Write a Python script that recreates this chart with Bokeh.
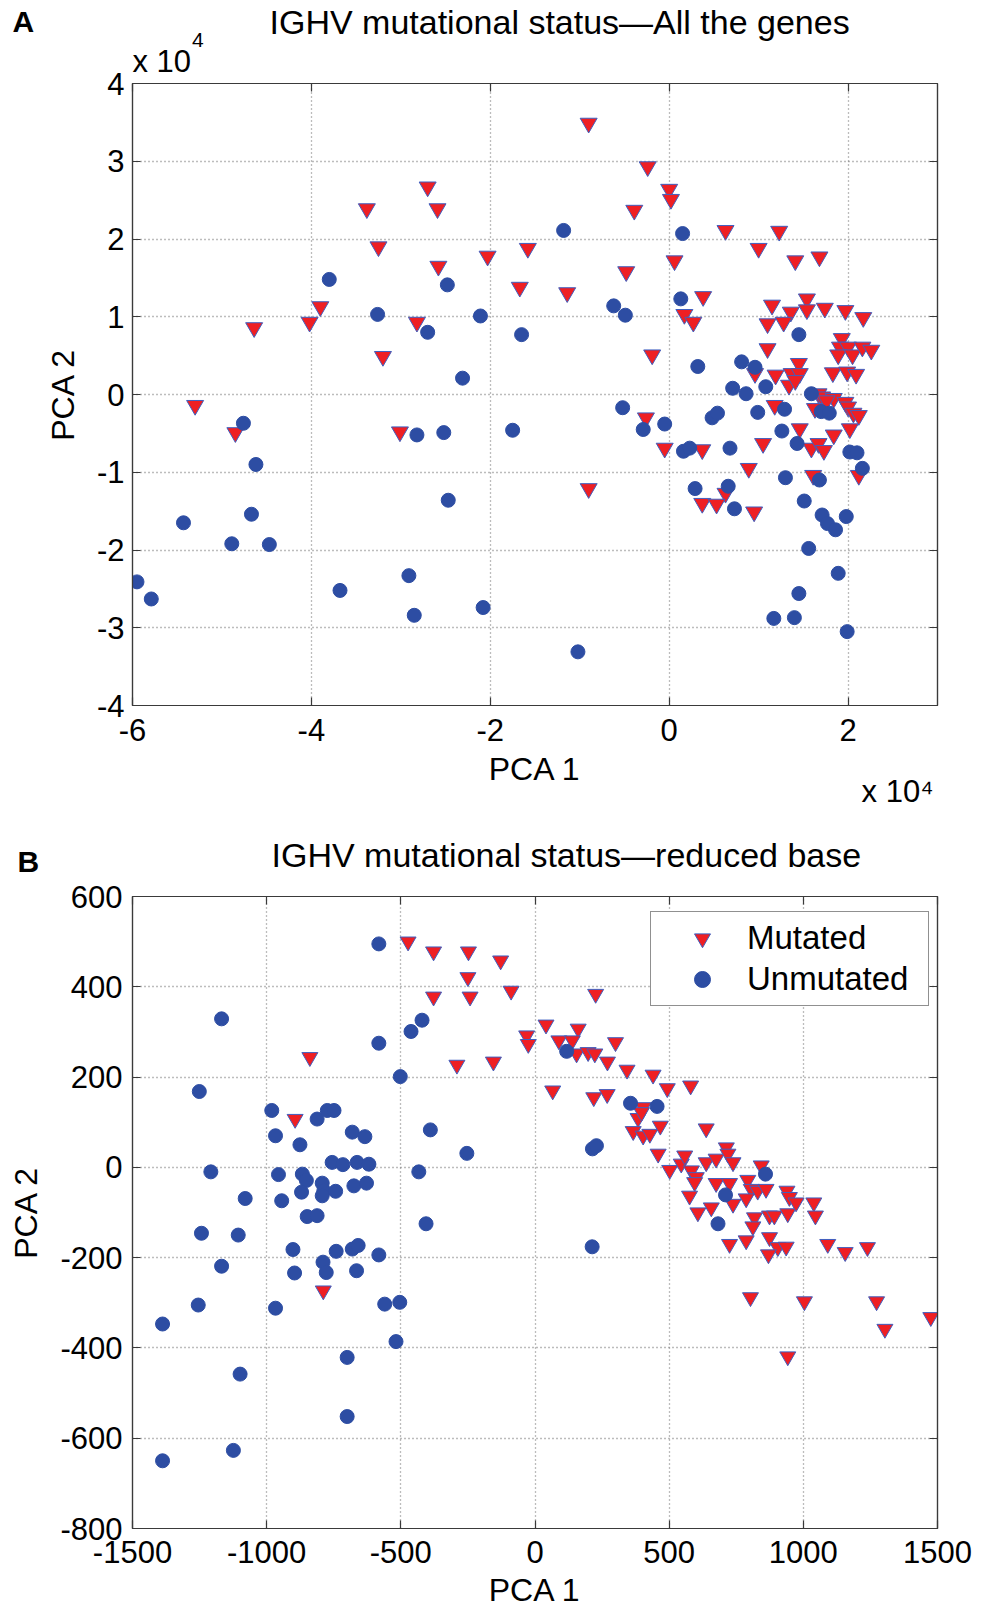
from bokeh.plotting import figure
from bokeh.models import LinearAxis, FixedTicker, Legend, LegendItem, Range1d, Title
from bokeh.layouts import column
from bokeh.embed import file_html
from bokeh.resources import INLINE

# ---------------- Panel A data (PCA units of 1e4) ----------------
a_mut_x = [-5.30, -4.64, -4.02, -3.90, -3.38, -3.25, -3.20, -2.70, -2.59, -2.58, -2.82, -2.03,
           -4.85, -3.01, -0.90, -0.24, 0.00, 0.02, -0.39, 0.63, 1.23, -1.58, 1.00, 0.06, 1.41,
           1.68, -0.48, -1.67, -1.14, 0.38, 0.17, 0.27, 1.15, 1.54, 1.54, 1.36, 1.74, 1.97, 2.17,
           1.10, 1.28, -0.19, 1.10, 1.93, 1.91, 2.00, 1.89, 2.05, 2.16, 2.26, 0.96, 1.19, 1.34,
           1.37, 1.45, 1.46, 1.41, 1.83, 1.99, 2.09, 1.67, 1.71, 1.84, 1.97, -0.26, -0.05, 0.37,
           1.18, 1.46, 1.05, 1.59, 1.67, 1.73, 1.84, 2.02, 1.63, 1.76, 2.00, 2.06, 2.12, 2.12,
           0.89, 1.61, -0.90, 0.63, 0.37, 0.53, 0.95]
a_mut_y = [-0.14, 0.86, 0.93, 1.13, 2.39, 1.90, 0.49, 2.67, 2.39, 1.65, 0.93, 1.78,
           -0.49, -0.48, 3.49, 2.93, 2.64, 2.51, 2.37, 2.11, 2.10, 1.88, 1.88, 1.72, 1.72,
           1.77, 1.58, 1.38, 1.31, 1.26, 1.03, 0.93, 1.15, 1.23, 1.09, 1.06, 1.11, 1.08, 0.99,
           0.91, 0.93, 0.51, 0.59, 0.72, 0.61, 0.61, 0.51, 0.51, 0.61, 0.57, 0.27, 0.25, 0.12,
           0.27, 0.40, 0.27, 0.18, 0.28, 0.29, 0.26, 0.01, -0.03, -0.05, -0.10, -0.30, -0.69, -0.71,
           -0.14, -0.44, -0.63, -0.69, -0.63, -0.72, -0.52, -0.44, -0.18, -0.08, -0.16, -0.24, -0.27, -1.04,
           -0.95, -1.04, -1.21, -1.27, -1.40, -1.41, -1.51]
a_unm_x = [-3.80, -3.26, -2.48, -2.70, -2.31, -2.11, -1.18, 0.15, -0.62, -0.49, 0.13, -1.65,
           1.45, 0.32, 0.81, 0.96, 0.71, 0.86, 1.08, 1.59, -1.75, -0.52, -0.29, -0.05, 0.16,
           0.23, 0.68, 0.48, 0.54, 0.99, 1.29, 1.26, 1.43, 1.70, 1.79, 2.02, 2.10, 2.16, 1.30,
           1.68, 0.29, 0.66, 0.73, 1.51, 1.71, 1.77, 1.86, 1.98, 1.56, 1.89, 1.45, 1.17, 1.40,
           1.99, -1.02, -4.76, -4.62, -5.43, -4.67, -4.89, -4.47, -5.95, -5.79, -2.82, -2.52,
           -2.47, -3.68, -2.91, -2.85, -2.08]
a_unm_y = [1.48, 1.03, 1.41, 0.80, 0.21, 1.01, 2.11, 2.07, 1.14, 1.02, 1.23, 0.77,
           0.77, 0.36, 0.42, 0.35, 0.08, 0.01, 0.10, 0.01, -0.46, -0.17, -0.45, -0.38, -0.73,
           -0.69, -0.69, -0.30, -0.24, -0.23, -0.19, -0.47, -0.63, -0.22, -0.24, -0.74, -0.75, -0.95, -1.07,
           -1.10, -1.21, -1.18, -1.47, -1.37, -1.55, -1.66, -1.74, -1.57, -1.98, -2.30, -2.56, -2.88, -2.87,
           -3.05, -3.31, -0.37, -0.90, -1.65, -1.54, -1.92, -1.93, -2.41, -2.63, -0.52, -0.49,
           -1.36, -2.52, -2.33, -2.84, -2.74]

# ---------------- Panel B data ----------------
b_mut_x = [-473, -378, -248, -250, -378, -242, -128, -89, 226, -839, -291, -155, -894, -789,
           41, -31, -25, 161, 89, 139, 155, 198, 223, 300, 270, 343, 440, 493, 580, 66, 219, 269,
           403, 384, 397, 366, 403, 428, 467, 638, 459, 502, 545, 558, 583, 601, 595, 638, 675,
           713, 719, 738, 843, 675, 725, 793, 806, 830, 861, 576, 607, 657, 738, 787, 818, 874,
           892, 942, 939, 948, 973, 1039, 1045, 725, 787, 812, 874, 905, 936, 870, 1091, 1156,
           1239, 803, 1004, 1273, 1475, 1304, 942]
b_mut_y = [500, 478, 478, 421, 378, 378, 458, 391, 384, 244, 227, 234, 107, -273,
           316, 292, 273, 307, 281, 281, 252, 255, 252, 277, 234, 216, 205, 175, 181, 170, 155, 162,
           133, 109, 122, 80, 70, 74, 92, 86, 30, -6, 8, 26, -7, -22, -33, 11, 19,
           44, 30, 11, 4, -35, -35, -28, -48, -52, -48, -63, -100, -89, -81, -69, -111, -107,
           -107, -102, -52, -66, -78, -78, -107, -170, -162, -131, -155, -177, -176, -193, -170, -188,
           -177, -288, -297, -297, -332, -358, -419]
b_unm_x = [-582, -1168, -421, -462, -582, -502, -1251, -981, -812, -774, -749, -967, -876,
           -681, -634, -390, -254, -1208, -433, -756, -716, -663, -619, -956, -867, -852, -793,
           -787, -743, -793, -870, -675, -628, -1080, -944, -849, -812, -406, -1243, -1106, -902,
           -741, -681, -659, -582, -1168, -790, -778, -896, -665, -1255, -967, -560, -504, -1388,
           -518, -700, -1099, -700, -1124, -1388, 118, 356, 455, 214, 229, 859, 710, 682, 213]
b_unm_y = [495, 329, 326, 301, 275, 201, 168, 126, 107, 126, 126, 70, 50,
           78, 68, 83, 31, -10, -10, 11, 6, 11, 7, -16, -15, -29, -35,
           -52, -53, -63, -55, -41, -35, -69, -74, -109, -107, -125, -146, -150, -182,
           -186, -181, -173, -194, -219, -210, -233, -234, -229, -305, -312, -303, -299, -347,
           -386, -421, -458, -552, -627, -650, 257, 142, 135, 41, 48, -15, -61, -125, -176]

a_xticks = [-6, -4, -2, 0, 2]
a_yticks = [-4, -3, -2, -1, 0, 1, 2, 3, 4]
b_xticks = [-1500, -1000, -500, 0, 500, 1000, 1500]
b_yticks = [-800, -600, -400, -200, 0, 200, 400, 600]

FONT = "Liberation Sans"
RED = "#ee1f23"
BLUE = "#2d4da3"
EDGE = "#3f5fc0"
AXC = "#3a3a3a"


def hyph(ticks):
    return {t: str(t) for t in ticks}


def style(p, xt, yt, ylab_stand, xlab_stand):
    p.background_fill_color = "white"
    p.border_fill_color = "white"
    p.outline_line_color = AXC
    p.outline_line_width = 1.2
    for ax in (p.xaxis[0], p.yaxis[0]):
        ax.axis_line_color = AXC
        ax.axis_line_width = 1.2
        ax.major_tick_in = 8
        ax.major_tick_out = 0
        ax.major_tick_line_color = AXC
        ax.major_tick_line_width = 1.2
        ax.minor_tick_line_color = None
        ax.major_label_text_font = FONT
        ax.major_label_text_font_size = "31px"
        ax.major_label_text_color = "black"
        ax.axis_label_text_font = FONT
        ax.axis_label_text_font_size = "32px"
        ax.axis_label_text_font_style = "normal"
        ax.axis_label_text_color = "black"
    p.xaxis[0].ticker = FixedTicker(ticks=xt)
    p.yaxis[0].ticker = FixedTicker(ticks=yt)
    p.xaxis[0].major_label_overrides = hyph(xt)
    p.yaxis[0].major_label_overrides = hyph(yt)
    p.yaxis[0].major_label_standoff = ylab_stand[0]
    p.yaxis[0].axis_label_standoff = ylab_stand[1]
    p.xaxis[0].major_label_standoff = xlab_stand[0]
    p.xaxis[0].axis_label_standoff = xlab_stand[1]
    p.xgrid.ticker = FixedTicker(ticks=xt)
    p.ygrid.ticker = FixedTicker(ticks=yt)
    for g in (p.xgrid, p.ygrid):
        g.grid_line_color = "#7a7a7a"
        g.grid_line_dash = "1 3"
        g.grid_line_width = 1.3
    top = LinearAxis(ticker=FixedTicker(ticks=xt), major_label_overrides={t: "" for t in xt})
    right = LinearAxis(ticker=FixedTicker(ticks=yt), major_label_overrides={t: "" for t in yt})
    for ax in (top, right):
        ax.axis_line_color = AXC
        ax.axis_line_width = 1.2
        ax.major_tick_in = 8
        ax.major_tick_out = 0
        ax.major_tick_line_color = AXC
        ax.major_tick_line_width = 1.2
        ax.minor_tick_line_color = None
        ax.major_label_text_font_size = "1px"
        ax.major_label_standoff = 0
    p.add_layout(top, "above")
    p.add_layout(right, "right")


def ttl(p, side, text, size, offset, standoff, align="left", bold=False):
    p.add_layout(Title(text=text, align=align, offset=offset, standoff=standoff,
                       vertical_align="middle", text_font=FONT, text_font_size=size,
                       text_font_style="bold" if bold else "normal", text_color="black"), side)


# ---------------- Panel A ----------------
pA = figure(width=975, height=836, output_backend="svg", toolbar_location=None,
            x_range=Range1d(-6, 3), y_range=Range1d(-4, 4),
            min_border_left=132, min_border_right=38, min_border_top=83, min_border_bottom=131,
            x_axis_label="PCA 1", y_axis_label="PCA 2")
style(pA, a_xticks, a_yticks, (8, 13), (13, 7))
pA.scatter(a_mut_x, a_mut_y, marker="inverted_triangle", size=17, fill_color=RED,
           line_color=EDGE, line_width=1)
pA.scatter(a_unm_x, a_unm_y, marker="circle", size=14, fill_color=BLUE,
           line_color=BLUE, line_width=1)
# rows above the frame, from the frame outward
ttl(pA, "above", "x 10", "31px", 0, 6.8)
ttl(pA, "above", "4", "21px", 59.5, -25.5)
ttl(pA, "above", " ", "10px", 0, 5.0)
ttl(pA, "above", "IGHV mutational status\u2014All the genes", "34px", 137, -40)
ttl(pA, "above", "A", "30px", -120, -36, bold=True)
# below the x axis
ttl(pA, "below", "x 10\u2074", "31px", 4, -33, align="right")

# ---------------- Panel B ----------------
pB = figure(width=975, height=776, output_backend="svg", toolbar_location=None,
            x_range=Range1d(-1500, 1500), y_range=Range1d(-800, 600),
            min_border_left=130, min_border_right=38, min_border_top=60, min_border_bottom=84,
            x_axis_label="PCA 1", y_axis_label="PCA 2")
style(pB, b_xticks, b_yticks, (10, 13), (12, 6))
rm = pB.scatter(b_mut_x, b_mut_y, marker="inverted_triangle", size=16, fill_color=RED,
                line_color=EDGE, line_width=1)
ru = pB.scatter(b_unm_x, b_unm_y, marker="circle", size=14, fill_color=BLUE,
                line_color=BLUE, line_width=1)
ttl(pB, "above", " ", "10px", 0, 22.2)
ttl(pB, "above", "B", "30px", -115, -36, bold=True)
ttl(pB, "above", " ", "3px", 0, 1.2)
ttl(pB, "above", "IGHV mutational status\u2014reduced base", "34px", 139, -40)

legend = Legend(items=[LegendItem(label="Mutated", renderers=[rm]),
                       LegendItem(label="Unmutated", renderers=[ru])],
                location=(518, 522), margin=0, padding=6, spacing=1,
                glyph_width=90, glyph_height=40, label_standoff=0, label_width=175,
                label_text_font=FONT, label_text_font_size="33px", label_text_color="black",
                border_line_color="#222222", border_line_width=1.2,
                background_fill_color="white", background_fill_alpha=1.0)
pB.add_layout(legend)

layout = column(pA, pB, spacing=0)
open("out.html", "w").write(file_html(layout, INLINE))
